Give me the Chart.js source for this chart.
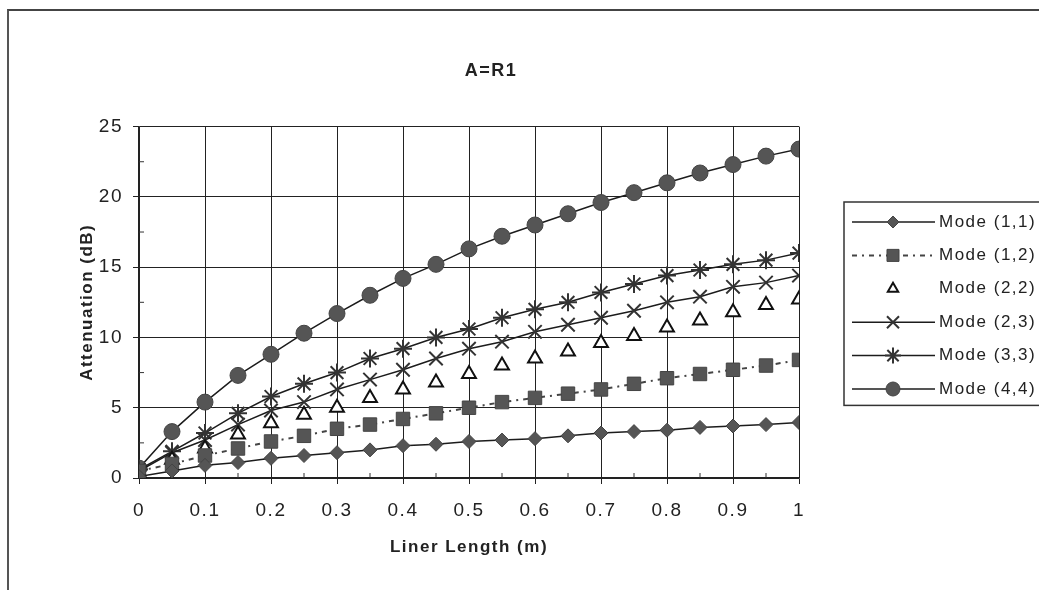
<!DOCTYPE html>
<html>
<head>
<meta charset="utf-8">
<title>A=R1</title>
<script src="https://cdn.jsdelivr.net/npm/chart.js@4/dist/chart.umd.min.js"></script>
<style>
  html, body { margin: 0; padding: 0; background: #fff; }
  #wrap { position: relative; width: 1039px; height: 590px; overflow: hidden; }
  #frame { position: absolute; left: 7px; top: 9px; width: 1100px; height: 700px;
           border-left: 2px solid #555; border-top: 2px solid #444; }
  #chart { position: absolute; left: 0; top: 0; }
</style>
</head>
<body>
<div id="wrap">
  <div id="frame"></div>
  <canvas id="chart" width="1039" height="590"></canvas>
</div>
<script>
// liner length (m)
const lengths = [0, 0.05, 0.1, 0.15, 0.2, 0.25, 0.3, 0.35, 0.4, 0.45, 0.5,
                 0.55, 0.6, 0.65, 0.7, 0.75, 0.8, 0.85, 0.9, 0.95, 1];

// attenuation (dB) per mode
const mode11 = [0.1, 0.5, 0.9, 1.1, 1.4, 1.6, 1.8, 2.0, 2.3, 2.4, 2.6, 2.7, 2.8, 3.0, 3.2, 3.3, 3.4, 3.6, 3.7, 3.8, 3.95];
const mode12 = [0.5, 1.0, 1.6, 2.1, 2.6, 3.0, 3.5, 3.8, 4.2, 4.6, 5.0, 5.4, 5.7, 6.0, 6.3, 6.7, 7.1, 7.4, 7.7, 8.0, 8.4];
const mode22 = [0.3, 1.3, 2.1, 3.1, 3.9, 4.5, 5.0, 5.7, 6.3, 6.8, 7.4, 8.0, 8.5, 9.0, 9.6, 10.1, 10.7, 11.2, 11.8, 12.3, 12.7];
const mode23 = [0.5, 1.8, 2.7, 3.8, 4.8, 5.4, 6.3, 7.0, 7.7, 8.5, 9.2, 9.7, 10.4, 10.9, 11.4, 11.9, 12.5, 12.9, 13.6, 13.9, 14.4];
const mode33 = [0.6, 1.9, 3.2, 4.6, 5.8, 6.7, 7.5, 8.5, 9.2, 10.0, 10.6, 11.4, 12.0, 12.5, 13.2, 13.8, 14.4, 14.8, 15.2, 15.5, 16.0];
const mode44 = [0.7, 3.3, 5.4, 7.3, 8.8, 10.3, 11.7, 13.0, 14.2, 15.2, 16.3, 17.2, 18.0, 18.8, 19.6, 20.3, 21.0, 21.7, 22.3, 22.9, 23.4];

const seriesNames = ['Mode (1,1)', 'Mode (1,2)', 'Mode (2,2)', 'Mode (2,3)', 'Mode (3,3)', 'Mode (4,4)'];

// axis ticks
const xTickValues = [0, 0.1, 0.2, 0.3, 0.4, 0.5, 0.6, 0.7, 0.8, 0.9, 1];
const xTickLabels = ['0', '0.1', '0.2', '0.3', '0.4', '0.5', '0.6', '0.7', '0.8', '0.9', '1'];
const yTickValues = [0, 5, 10, 15, 20, 25];
const yTickLabels = ['0', '5', '10', '15', '20', '25'];

Chart.defaults.font.family = '"Liberation Sans", Arial, sans-serif';
Chart.defaults.color = '#222';

const points = arr => arr.map((v, i) => ({ x: lengths[i], y: v }));

const ink = '#1c1c1c';
const fillGray = '#555';

const datasets = [
  { label: seriesNames[0], data: points(mode11), borderColor: ink, borderWidth: 1.5,
    pointStyle: 'rectRot', pointRadius: 7, pointBackgroundColor: fillGray, pointBorderColor: '#444', pointBorderWidth: 1 },
  { label: seriesNames[1], data: points(mode12), borderColor: '#444', borderWidth: 2, borderDash: [5, 5, 2, 5],
    pointStyle: 'rect', pointRadius: 9.5, pointBackgroundColor: fillGray, pointBorderColor: '#444', pointBorderWidth: 1 },
  { label: seriesNames[2], data: points(mode22), showLine: false, borderColor: ink,
    pointStyle: 'triangle', pointRadius: 8, pointBackgroundColor: '#fff', pointBorderColor: '#111', pointBorderWidth: 2 },
  { label: seriesNames[3], data: points(mode23), borderColor: ink, borderWidth: 1.5,
    pointStyle: 'crossRot', pointRadius: 9.5, pointBorderColor: '#333', pointBorderWidth: 2 },
  { label: seriesNames[4], data: points(mode33), borderColor: ink, borderWidth: 1.5,
    pointStyle: 'star', pointRadius: 9, pointBorderColor: '#333', pointBorderWidth: 2 },
  { label: seriesNames[5], data: points(mode44), borderColor: ink, borderWidth: 1.5,
    pointStyle: 'circle', pointRadius: 8, pointBackgroundColor: fillGray, pointBorderColor: '#444', pointBorderWidth: 1 }
];

// the scanned original has wide-set lettering
const textSpacing = {
  id: 'textSpacing',
  beforeDraw(chart) {
    chart.ctx.letterSpacing = '1.5px';
  }
};

// small minor tick marks inside the plot, halfway between the major ticks
const minorTicks = {
  id: 'minorTicks',
  beforeDatasetsDraw(chart) {
    const { ctx, chartArea, scales } = chart;
    ctx.save();
    ctx.strokeStyle = '#333';
    ctx.lineWidth = 1;
    ctx.beginPath();
    for (let i = 0; i < yTickValues.length - 1; i++) {
      const y = scales.y.getPixelForValue((yTickValues[i] + yTickValues[i + 1]) / 2);
      ctx.moveTo(chartArea.left, y);
      ctx.lineTo(chartArea.left + 5, y);
    }
    for (let i = 0; i < xTickValues.length - 1; i++) {
      const x = scales.x.getPixelForValue((xTickValues[i] + xTickValues[i + 1]) / 2);
      ctx.moveTo(x, chartArea.bottom);
      ctx.lineTo(x, chartArea.bottom - 5);
    }
    ctx.stroke();
    ctx.restore();
  }
};

// boxed legend with line + marker samples, like the spreadsheet one
const boxLegend = {
  id: 'boxLegend',
  afterDraw(chart) {
    const { ctx, chartArea } = chart;
    const left = chartArea.right + 45;
    const top = 202, rowH = 33.4;
    const bottom = top + rowH * chart.data.datasets.length + 3;
    ctx.save();
    ctx.strokeStyle = '#333';
    ctx.lineWidth = 1.5;
    ctx.strokeRect(left, top, chart.width - left + 20, bottom - top);

    chart.data.datasets.forEach((ds, i) => {
      const y = top + 20 + i * rowH;
      const x0 = left + 8, x1 = left + 91, xm = left + 49;
      if (ds.showLine !== false) {
        ctx.save();
        ctx.strokeStyle = ds.borderColor;
        ctx.lineWidth = ds.borderWidth || 1.5;
        ctx.setLineDash(ds.borderDash || []);
        ctx.beginPath();
        ctx.moveTo(x0, y);
        ctx.lineTo(x1, y);
        ctx.stroke();
        ctx.restore();
      }
      ctx.save();
      ctx.setLineDash([]);
      ctx.fillStyle = ds.pointBackgroundColor || '#fff';
      ctx.strokeStyle = ds.pointBorderColor;
      ctx.lineWidth = ds.pointBorderWidth;
      const r = ds.pointStyle === 'triangle' ? 6 : ds.pointRadius - 1;
      Chart.helpers.drawPoint(ctx, { pointStyle: ds.pointStyle, rotation: 0, radius: r, borderWidth: ds.pointBorderWidth }, xm, y);
      ctx.restore();

      ctx.fillStyle = '#222';
      ctx.font = '17px "Liberation Sans", Arial, sans-serif';
      ctx.textBaseline = 'middle';
      ctx.textAlign = 'left';
      ctx.fillText(ds.label, x1 + 4, y);
    });
    ctx.restore();
  }
};

new Chart(document.getElementById('chart'), {
  type: 'line',
  data: { datasets },
  options: {
    responsive: false,
    animation: false,
    events: [],
    layout: { padding: { left: 0, right: 57, top: 0, bottom: 0 } },
    elements: { line: { tension: 0, fill: false } },
    plugins: {
      legend: { display: false },
      tooltip: { enabled: false },
      title: {
        display: true,
        text: 'A=R1',
        color: '#222',
        font: { size: 18, weight: 'bold' },
        padding: { top: 60, bottom: 45 }
      }
    },
    scales: {
      x: {
        type: 'linear',
        position: 'bottom',
        min: 0,
        max: 1,
        afterBuildTicks: s => { s.ticks = xTickValues.map(v => ({ value: v })); },
        afterFit: s => { s.height = 112; },
        ticks: {
          callback: (v, i) => xTickLabels[i],
          font: { size: 19 },
          color: '#222',
          padding: 15,
          maxRotation: 0
        },
        grid: { color: '#222', lineWidth: 1, tickLength: 6, tickColor: '#222' },
        border: { color: '#222', width: 1.5 },
        title: {
          display: true,
          text: 'Liner Length (m)',
          color: '#222',
          font: { size: 17, weight: 'bold' },
          padding: { top: 4, bottom: 32 }
        }
      },
      y: {
        min: 0,
        max: 25,
        afterBuildTicks: s => { s.ticks = yTickValues.map(v => ({ value: v })); },
        afterFit: s => { s.width = 139; },
        ticks: {
          callback: (v, i) => yTickLabels[i],
          font: { size: 19 },
          color: '#222',
          padding: 10
        },
        grid: { color: '#222', lineWidth: 1, tickLength: 6, tickColor: '#222' },
        border: { color: '#222', width: 1.5 },
        title: {
          display: true,
          text: 'Attenuation (dB)',
          color: '#222',
          font: { size: 17, weight: 'bold' },
          padding: { top: 77, bottom: 0 }
        }
      },
      // empty right-hand box that keeps room for the legend
      side: {
        position: 'right',
        min: 0,
        max: 1,
        afterFit: s => { s.width = 183; },
        ticks: { display: false },
        grid: { display: false },
        border: { display: false }
      }
    }
  },
  plugins: [textSpacing, minorTicks, boxLegend]
});
</script>
</body>
</html>
